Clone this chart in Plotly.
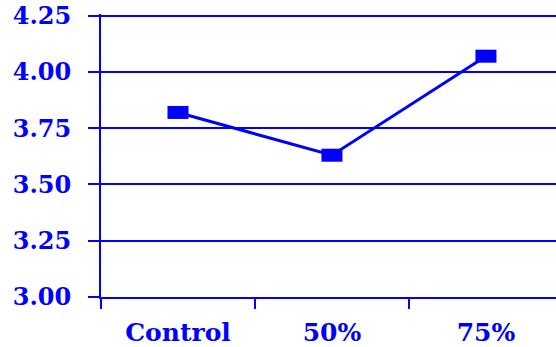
import plotly.graph_objects as go

categories = ["Control", "50%", "75%"]
values = [3.82, 3.63, 4.07]
y_ticks = [3.00, 3.25, 3.50, 3.75, 4.00, 4.25]
y_tick_labels = ["3.00", "3.25", "3.50", "3.75", "4.00", "4.25"]

BLUE = "#0000ff"
YFONT = dict(family="DejaVu Serif", size=24, color=BLUE, weight="bold")
XFONT = dict(family="DejaVu Serif", size=25, color=BLUE, weight="bold")

fig = go.Figure()
fig.add_trace(go.Scatter(
    x=categories, y=values, mode="lines+markers",
    line=dict(color=BLUE, width=3),
    marker=dict(symbol="line-ew", size=15, color=BLUE,
                line=dict(color=BLUE, width=13)),
    showlegend=False, hoverinfo="skip",
))

fig.update_layout(
    width=556, height=347,
    margin=dict(l=101, r=0, t=14, b=50),
    paper_bgcolor="white", plot_bgcolor="white",
    xaxis=dict(
        type="category", range=[-0.5, 2.455], automargin=False,
        showline=True, linecolor=BLUE, linewidth=2,
        ticks="outside", tickson="boundaries", ticklen=10, tickwidth=2, tickcolor=BLUE,
        showgrid=False, tickfont=XFONT, ticklabelstandoff=12,
    ),
    yaxis=dict(
        range=[3.0, 4.2575], tickvals=y_ticks, ticktext=y_tick_labels, automargin=False,
        showline=True, linecolor=BLUE, linewidth=2,
        ticks="outside", ticklen=11, tickwidth=1.5, tickcolor=BLUE,
        showgrid=True, gridcolor=BLUE, gridwidth=1.5,
        zeroline=False, tickfont=YFONT, ticklabelstandoff=12,
    ),
)

fig.write_html("out.html")
